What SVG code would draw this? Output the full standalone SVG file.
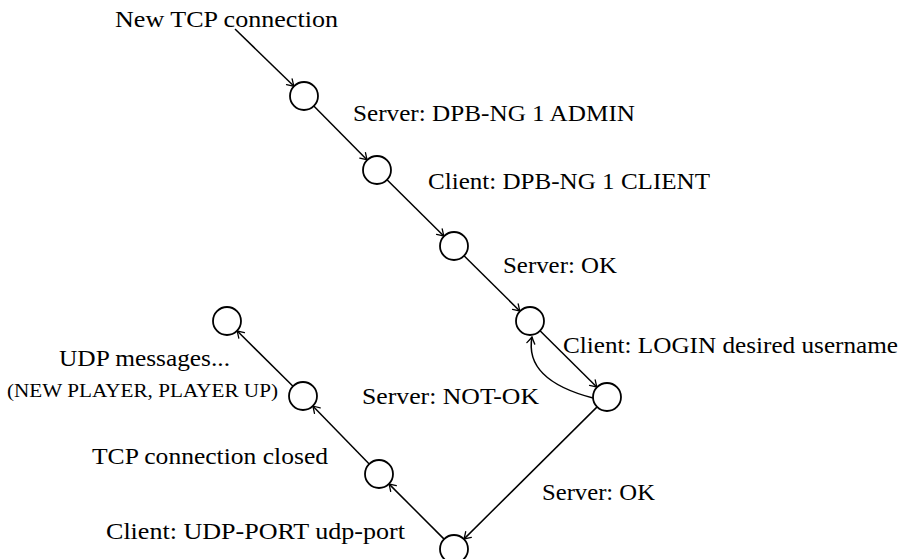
<svg xmlns="http://www.w3.org/2000/svg" width="907" height="559" viewBox="0 0 907 559">
<style>
.st{fill:#fff;stroke:#000;stroke-width:1.8}
.e{fill:none;stroke:#000;stroke-width:1.5;marker-end:url(#arr)}
.t{font-family:"Liberation Serif","Times New Roman",serif;font-size:22.5px;fill:#000}
.s{font-family:"Liberation Serif","Times New Roman",serif;font-size:18.5px;fill:#000}
</style>
<defs>
<marker id="arr" viewBox="-8 -5 9 10" refX="0" refY="0" markerWidth="9" markerHeight="10" orient="auto" markerUnits="userSpaceOnUse">
<path d="M-6.5,-4 Q-2,-1 0,0 Q-2,1 -6.5,4" fill="none" stroke="#000" stroke-width="1.3" stroke-linecap="round"/>
</marker>
</defs>
<rect width="907" height="559" fill="#fff"/>
<g id="connectors">
<line class="e" x1="235" y1="29" x2="294" y2="86.3"/>
<line class="e" x1="313.8" y1="106" x2="367.2" y2="160"/>
<line class="e" x1="387" y1="179.8" x2="444" y2="236.2"/>
<line class="e" x1="464" y1="255.8" x2="520" y2="311.2"/>
<line class="e" x1="540" y1="330.8" x2="597" y2="387.2"/>
<path class="e" d="M593,398 Q524,380 532,337"/>
<line class="e" x1="597.1" y1="406.9" x2="463.9" y2="539.1"/>
<line class="e" x1="444.1" y1="539.1" x2="388.9" y2="483.9"/>
<line class="e" x1="369.2" y1="464" x2="312.8" y2="406"/>
<line class="e" x1="293" y1="386.2" x2="237" y2="330.8"/>
</g>
<g id="n1"><circle class="st" cx="304" cy="96" r="14"/></g>
<g id="n2"><circle class="st" cx="377" cy="170" r="14"/></g>
<g id="n3"><circle class="st" cx="454" cy="246" r="14"/></g>
<g id="n4"><circle class="st" cx="530" cy="321" r="14"/></g>
<g id="n5"><circle class="st" cx="607" cy="397" r="14"/></g>
<g id="n6"><circle class="st" cx="454" cy="549" r="14"/></g>
<g id="n7"><circle class="st" cx="379" cy="474" r="14"/></g>
<g id="n8"><circle class="st" cx="303" cy="396" r="14"/></g>
<g id="n9"><circle class="st" cx="227" cy="321" r="14"/></g>
<g id="labels">
<text class="t" x="115" y="27" textLength="223" lengthAdjust="spacingAndGlyphs">New TCP connection</text>
<text class="t" x="353" y="121" textLength="282" lengthAdjust="spacingAndGlyphs">Server: DPB-NG 1 ADMIN</text>
<text class="t" x="428" y="189" textLength="282" lengthAdjust="spacingAndGlyphs">Client: DPB-NG 1 CLIENT</text>
<text class="t" x="503" y="273" textLength="114" lengthAdjust="spacingAndGlyphs">Server: OK</text>
<text class="t" x="563" y="353" textLength="335" lengthAdjust="spacingAndGlyphs">Client: LOGIN desired username</text>
<text class="t" x="362" y="404" textLength="177" lengthAdjust="spacingAndGlyphs">Server: NOT-OK</text>
<text class="t" x="59" y="366" textLength="171" lengthAdjust="spacingAndGlyphs">UDP messages...</text>
<text class="s" x="7" y="397" textLength="271" lengthAdjust="spacingAndGlyphs">(NEW PLAYER, PLAYER UP)</text>
<text class="t" x="92" y="464" textLength="236" lengthAdjust="spacingAndGlyphs">TCP connection closed</text>
<text class="t" x="542" y="500" textLength="113" lengthAdjust="spacingAndGlyphs">Server: OK</text>
<text class="t" x="106" y="539" textLength="299" lengthAdjust="spacingAndGlyphs">Client: UDP-PORT udp-port</text>
</g>
</svg>
